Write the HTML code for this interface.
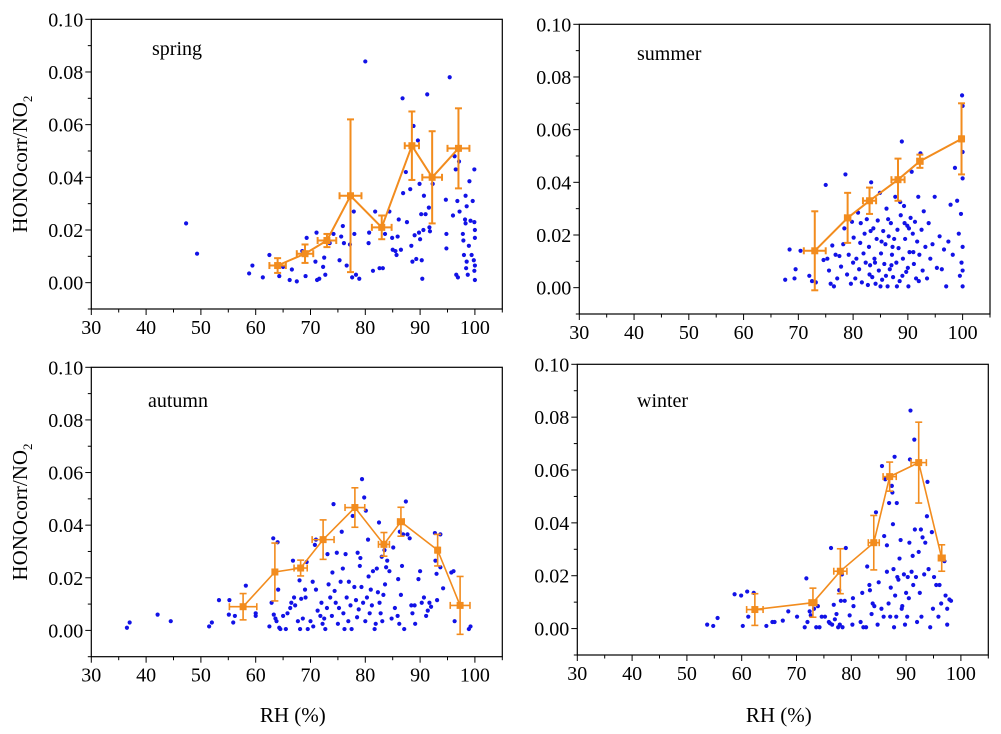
<!DOCTYPE html>
<html><head><meta charset="utf-8"><style>
html,body{margin:0;padding:0;background:#fff}
svg{display:block}
svg text{font-family:"Liberation Serif","Times New Roman",serif}
</style></head><body>
<svg id="chart" width="1001" height="734" viewBox="0 0 1001 734" font-family="Liberation Serif, serif"></svg>
<script>
const seasons = ["spring","summer","autumn","winter"];
const xTicks = [30,40,50,60,70,80,90,100];
const yTicks = [0.00,0.02,0.04,0.06,0.08,0.10];
const yTickLabels = ["0.00","0.02","0.04","0.06","0.08","0.10"];

const springPts = [[47.3,.0225],[49.3,.011],[58.8,.0035],[59.4,.0065],[61.3,.002],[62.5,.0105],[64.3,.0025],[65,.006],[66.2,.001],[66.6,.005],[67.5,.0005],[68.5,.012],[69.1,.0025],[69.3,.017],[70.9,.008],[71.1,.019],[71.2,.001],[71.6,.0015],[72.3,.006],[72.5,.0095],[72.7,.003],[73.5,.015],[74.2,.0185],[75.3,.0085],[75.6,.0175],[75.9,.0215],[76.1,.015],[76.6,.0065],[77.2,.0145],[77.6,.002],[77.9,.027],[78,.0185],[78.3,.003],[78.9,.0015],[80,.084],[80.6,.015],[80.7,.019],[81.4,.0045],[81.8,.027],[82.6,.0055],[83.2,.0055],[83.6,.0185],[84.4,.027],[84.9,.017],[85,.0125],[85.5,.012],[85.7,.0105],[85.9,.0175],[86.1,.024],[86.5,.0125],[86.8,.07],[86.9,.034],[87.4,.042],[87.6,.023],[88.2,.0355],[88.4,.014],[88.6,.008],[88.8,.0595],[89,.018],[89.3,.009],[89.6,.054],[89.8,.019],[89.9,.0375],[90,.0165],[90.2,.026],[90.3,.0085],[90.4,.0015],[90.6,.02],[90.7,.033],[91,.026],[91.3,.0715],[91.6,.0285],[91.7,.021],[91.8,.0195],[92.3,.0375],[94.7,.0315],[94.8,.0185],[94.8,.013],[95.4,.078],[96,.0255],[96.3,.048],[96.5,.043],[96.6,.003],[96.8,.031],[96.9,.002],[97.1,.046],[97.2,.027],[97.8,.0185],[97.9,.016],[98,.0105],[98.2,.024],[98.3,.0225],[98.3,.033],[98.4,.0055],[98.5,.029],[98.5,.008],[98.7,.003],[98.9,.014],[99,.0385],[99.2,.0235],[99.4,.0105],[99.6,.031],[99.8,.0085],[99.9,.043],[99.9,.023],[100,.02],[100,.017],[100,.0065],[100,.001],[99.9,.0045]];
const summerPts = [[67.6,.003],[68.4,.0145],[69.3,.0035],[69.5,.007],[70.4,.014],[72,.0045],[72.5,.0025],[73.2,.002],[74.6,.0105],[75,.039],[75.3,.011],[75.6,.0065],[75.9,.0015],[76.2,.016],[76.5,.0005],[76.8,.0125],[77.1,.0035],[77.5,.012],[77.8,.008],[78.2,.0165],[78.4,.0225],[78.6,.043],[78.9,.005],[79.2,.0125],[79.6,.0015],[79.8,.025],[80.1,.019],[80.4,.0035],[80.6,.011],[80.9,.0285],[81.1,.007],[81.3,.017],[81.6,.002],[81.9,.013],[82.1,.0205],[82.3,.0095],[82.5,.026],[82.7,.001],[82.9,.0155],[83.1,.0085],[83.3,.04],[83.5,.004],[83.7,.0225],[83.9,.011],[84.1,.0015],[84.3,.0185],[84.5,.0255],[84.7,.0065],[84.9,.036],[85.1,.013],[85.3,.003],[85.5,.0215],[85.7,.009],[85.9,.0165],[86.1,.03],[86.3,.0005],[86.5,.0195],[86.7,.007],[86.9,.0245],[87.1,.0125],[87.3,.004],[87.5,.0185],[87.7,.0345],[87.9,.0095],[88.1,.022],[88.3,.015],[88.5,.0025],[88.7,.0275],[88.9,.0555],[89.1,.011],[89.3,.031],[89.5,.0185],[89.7,.006],[89.9,.0235],[90.1,.0005],[90.3,.0135],[90.5,.0265],[90.7,.044],[90.9,.0205],[91.1,.009],[91.3,.025],[91.5,.0035],[91.7,.0175],[91.9,.0345],[92.1,.0125],[92.3,.051],[92.5,.022],[92.7,.0065],[92.9,.029],[93.2,.0155],[93.5,.0035],[93.8,.0245],[94.1,.011],[94.5,.0165],[94.9,.0345],[95.3,.0075],[95.8,.0195],[96.2,.007],[96.6,.0145],[97,.0005],[97.4,.0175],[97.8,.0315],[98.2,.0125],[98.6,.0455],[99,.033],[99.3,.0205],[99.5,.0045],[99.7,.028],[99.8,.0095],[99.9,.073],[100,.0155],[100,.0415],[100,.0005],[100,.069],[100,.0065],[100,.0515],[83,.005],[84,.0095],[85,.0005],[86,.0045],[87,.0085],[88,.0005],[89,.0045],[90,.0075],[91,.0135],[92,.0025],[86.4,.026],[88.6,.0325],[89.4,.0245],[90.2,.0225],[87.2,.0155],[85.2,.0175],[83.2,.0215],[81.4,.0245],[80,.0095]];
const autumnPts = [[36.5,.001],[37,.003],[42.1,.006],[44.5,.0035],[51.5,.0015],[52,.003],[53.3,.0115],[55.2,.0115],[55.1,.006],[55.9,.003],[56.2,.0055],[58.2,.017],[60,.0065],[60,.0055],[62.5,.0015],[62.9,.0105],[63.2,.035],[63.3,.006],[63.6,.0045],[63.8,.0035],[64,.0335],[64.1,.0155],[64.3,.001],[64.5,.0005],[65,.0055],[65.5,.0005],[65.8,.0065],[66.3,.0085],[66.5,.0105],[66.8,.0265],[67,.0125],[67.2,.0095],[67.7,.0035],[68,.019],[68.1,.0005],[68.3,.012],[68.6,.0045],[69,.0155],[69.1,.0125],[69.3,.026],[69.5,.0005],[70,.0035],[70.4,.0185],[70.5,.0015],[70.8,.0325],[71,.0345],[71,.0155],[71.3,.0075],[71.8,.0055],[72,.0105],[72.2,.0025],[72.5,.0045],[72.7,.0005],[73,.0085],[73.1,.029],[73.3,.0175],[73.6,.0125],[73.9,.0055],[74,.022],[74.2,.048],[74.4,.015],[74.6,.0105],[74.8,.0295],[75,.0025],[75.2,.0085],[75.5,.0185],[75.7,.0375],[75.9,.0235],[76,.0065],[76.2,.0005],[76.4,.029],[76.6,.0125],[76.9,.0035],[77,.0185],[77.3,.0095],[77.5,.0005],[77.7,.0435],[78,.0165],[78.3,.0115],[78.5,.005],[78.6,.0295],[78.8,.008],[79,.0245],[79.1,.0275],[79.3,.0165],[79.4,.0575],[79.6,.0105],[79.8,.0505],[80,.0035],[80.1,.0455],[80.3,.0125],[80.5,.0345],[80.6,.0205],[80.8,.0065],[81,.0155],[81.2,.0095],[81.4,.0225],[81.7,.0005],[81.9,.0025],[82.1,.0235],[82.3,.0145],[82.5,.041],[82.6,.0105],[82.8,.0065],[83,.028],[83.1,.0035],[83.3,.0135],[83.5,.0305],[83.6,.0175],[83.8,.024],[84,.0265],[84.4,.0225],[84.8,.0045],[85.1,.0315],[85.4,.0085],[85.9,.0055],[86,.0195],[86.2,.0025],[86.3,.0375],[86.5,.0135],[86.7,.0245],[86.9,.0365],[87.1,.0005],[87.4,.049],[87.7,.0365],[88.1,.035],[88.4,.0095],[88.6,.0065],[89,.0095],[89.1,.0025],[89.7,.0195],[90,.0225],[90.3,.0105],[90.7,.0125],[91.1,.0055],[91.4,.0075],[91.7,.0105],[92,.009],[92.7,.037],[92.8,.0265],[93,.0215],[93.1,.0115],[93.7,.0365],[93.7,.024],[94.2,.016],[95.7,.022],[96.1,.0225],[96.3,.0035],[98.9,.0005],[99.2,.0015]];
const winterPts = [[53.7,.0015],[54.8,.001],[55.6,.004],[58.7,.013],[59.9,.0125],[60.2,.001],[61,.014],[61.2,.0045],[62.2,.0135],[64.5,.001],[65.6,.0025],[66,.0025],[67.5,.003],[68.5,.0065],[70.1,.0045],[71.5,.0005],[71.8,.019],[72,.0025],[72.4,.0065],[72.6,.005],[73.2,.0075],[73.6,.0005],[73.9,.0085],[74.2,.0005],[74.6,.0045],[75.2,.0045],[75.9,.0025],[76.1,.002],[76.3,.0305],[76.5,.0015],[76.8,.009],[77,.0035],[77.3,.0055],[77.6,.0005],[77.8,.0145],[77.9,.0015],[78.1,.0105],[78.3,.0205],[78.4,.0005],[78.8,.0105],[79,.0305],[79.7,.005],[80.2,.0015],[80.3,.0115],[80.4,.0085],[81.7,.0025],[82,.0135],[82.2,.0005],[82.7,.0005],[82.9,.0235],[83.3,.0165],[83.4,.0145],[83.7,.0055],[83.9,.0095],[84.2,.0085],[84.5,.044],[84.8,.0015],[85,.0175],[85.6,.0615],[85.9,.0045],[86,.035],[86.2,.0565],[86.5,.0215],[86.5,.0315],[86.9,.0475],[87.1,.0045],[87.2,.0155],[87.4,.054],[87.5,.0515],[87.6,.0395],[87.7,.0225],[87.9,.065],[88,.0125],[88.3,.0475],[88.4,.0195],[88.6,.0185],[88.8,.0265],[89,.0335],[89.2,.0075],[89.6,.0205],[89.8,.0015],[90,.0135],[90.2,.0045],[90.3,.0195],[90.6,.0325],[90.7,.064],[90.8,.0825],[91,.0215],[91.2,.0275],[91.5,.0715],[91.6,.0375],[91.8,.0195],[92,.0025],[92.3,.029],[92.7,.0375],[92.8,.0045],[93,.0345],[93.3,.0205],[93.5,.0325],[93.8,.0425],[93.9,.0555],[94.1,.0225],[94.4,.0005],[94.7,.0365],[94.9,.0075],[95.1,.0195],[95.5,.0165],[95.9,.0045],[96.1,.0165],[96.4,.0095],[97,.0255],[97.2,.0125],[97.5,.0015],[97.5,.0075],[97.9,.011],[98.2,.0105],[88.2,.0045],[89.3,.0085],[86.8,.0095],[85.5,.0075],[90.5,.0115],[92.5,.0135],[87.8,.0005],[91.3,.0165]];

// binned means: [RH, mean, yErr, xErr]
const springMeans = [[64,.0065,.0028,1.5],[69,.011,.0035,1.5],[73,.016,.0025,1.7],[77.3,.033,.029,2],[83,.021,.0045,1.8],[88.5,.052,.013,1.3],[92.2,.040,.0175,1.8],[97,.051,.0152,2]];
const summerMeans = [[73,.014,.015,2],[79,.0265,.0095,.5],[83,.033,.005,1.2],[88.2,.041,.008,1.2],[92.2,.048,.0025,.5],[99.8,.0565,.0135,.3]];
const autumnMeans = [[57.7,.009,.005,2.5],[63.5,.0222,.011,.3],[68.2,.0237,.003,1.2],[72.3,.0345,.0075,2],[78.1,.0467,.0075,1.8],[83.4,.0327,.0045,1],[86.5,.0413,.0055,.6],[93.2,.0305,.006,.3],[97.3,.0095,.011,1.8]];
const winterMeans = [[62.4,.0072,.006,1.5],[73,.0098,.0055,.7],[78,.0217,.0085,1.2],[84.1,.0325,.0103,1],[87,.0575,.0055,1.2],[92.3,.0628,.0153,1.4],[96.5,.0267,.005,.6]];

const svg = document.getElementById('chart');
const NS = 'http://www.w3.org/2000/svg';
const FONT = '"Liberation Serif", "Times New Roman", serif';
function mk(tag, attrs, parent){ const e=document.createElementNS(NS,tag); for(const k in attrs) e.setAttribute(k,attrs[k]); if(tag==='text') e.style.fontFamily=FONT; parent.appendChild(e); return e; }

const panels = [
 {name:"spring", L:91.3,R:502.3,T:19.3,B:309,pts:springPts,means:springMeans,lx:152,ly:55,ytitle:true,xtitle:false,lw:2},
 {name:"summer", L:579.3,R:990,T:24.3,B:314,pts:summerPts,means:summerMeans,lx:637,ly:60,ytitle:false,xtitle:false,lw:2},
 {name:"autumn", L:91.3,R:502.3,T:367.3,B:656.7,pts:autumnPts,means:autumnMeans,lx:148,ly:407,ytitle:true,xtitle:true,lw:1.6},
 {name:"winter", L:577.3,R:988.3,T:364.3,B:655,pts:winterPts,means:winterMeans,lx:637,ly:407,ytitle:false,xtitle:true,lw:1.6}
];
const ORANGE = "#f28c1e";

panels.forEach(p=>{
  const g = mk('g',{},svg);
  
  
  const xs = v => p.L + (v-30)/(105-30)*(p.R-p.L);
  const ys = v => p.B - (v+0.01)/(0.11)*(p.B-p.T);
  const frame = mk('rect',{x:p.L,y:p.T,width:p.R-p.L,height:p.B-p.T,fill:'none',stroke:'#000','stroke-width':1.2},g);
  
  
  for(let i=-1;i<=10;i++){
    const v=i/100, y=ys(v), major=(i>=0 && i%2===0);
    mk('line',{x1:p.L-(major?6:3.5),x2:p.L,y1:y,y2:y,stroke:'#000','stroke-width':1},g);
  }
  yTicks.forEach((v,i)=>{
    const t=mk('text',{x:p.L-8,y:ys(v)+7,'text-anchor':'end','font-size':20},g);
    t.textContent=yTickLabels[i];
    
    
  });
  for(let v=30;v<=105;v+=5){
    const major = v%10===0;
    mk('line',{x1:xs(v),x2:xs(v),y1:p.B,y2:p.B+(major?6:3.5),stroke:'#000','stroke-width':1},g);
  }
  xTicks.forEach(v=>{
    const t=mk('text',{x:xs(v),y:p.B+25,'text-anchor':'middle','font-size':20},g);
    t.textContent=String(v);
    
    
  });
  const lab=mk('text',{x:p.lx,y:p.ly,'font-size':20},g);
  lab.textContent=p.name;
  
  
  p.pts.forEach(d=>{
    const c=mk('circle',{cx:xs(d[0]),cy:ys(d[1]),r:2.1,fill:'#1212e6'},g);
    
    
  });
  const path = p.means.map((m,i)=>(i?'L':'M')+xs(m[0]).toFixed(1)+','+ys(m[1]).toFixed(1)).join(' ');
  const ln=mk('path',{d:path,fill:'none',stroke:ORANGE,'stroke-width':p.lw},g);
  
  
  p.means.forEach(m=>{
    const cx=xs(m[0]), cy=ys(m[1]);
    const y1=ys(m[1]-m[2]), y2=ys(m[1]+m[2]), x1=xs(m[0]-m[3]), x2=xs(m[0]+m[3]);
    const eb=mk('g',{stroke:ORANGE,'stroke-width':p.lw},g);
    
    
    mk('line',{x1:cx,x2:cx,y1:y1,y2:y2},eb);
    mk('line',{x1:cx-3.5,x2:cx+3.5,y1:y1,y2:y1},eb);
    mk('line',{x1:cx-3.5,x2:cx+3.5,y1:y2,y2:y2},eb);
    mk('line',{x1:x1,x2:x2,y1:cy,y2:cy},eb);
    mk('line',{x1:x1,x2:x1,y1:cy-3.5,y2:cy+3.5},eb);
    mk('line',{x1:x2,x2:x2,y1:cy-3.5,y2:cy+3.5},eb);
    const sq=mk('rect',{x:cx-3.5,y:cy-3.5,width:7,height:7,fill:ORANGE},g);
    
    
  });
  if(p.ytitle){
    const cy=(p.T+p.B)/2;
    const t=mk('text',{x:0,y:0,'font-size':21,'text-anchor':'middle',transform:`translate(27,${cy}) rotate(-90)`},g);
    
    
    t.appendChild(document.createTextNode('HONOcorr/NO'));
    const s=mk('tspan',{'font-size':13,dy:5},t); s.textContent='2';
  }
  if(p.xtitle){
    const t=mk('text',{x:(p.L+p.R)/2-4,y:722,'font-size':21,'text-anchor':'middle'},g);
    t.textContent='RH (%)';
    
    
  }
});
</script>
</body></html>
